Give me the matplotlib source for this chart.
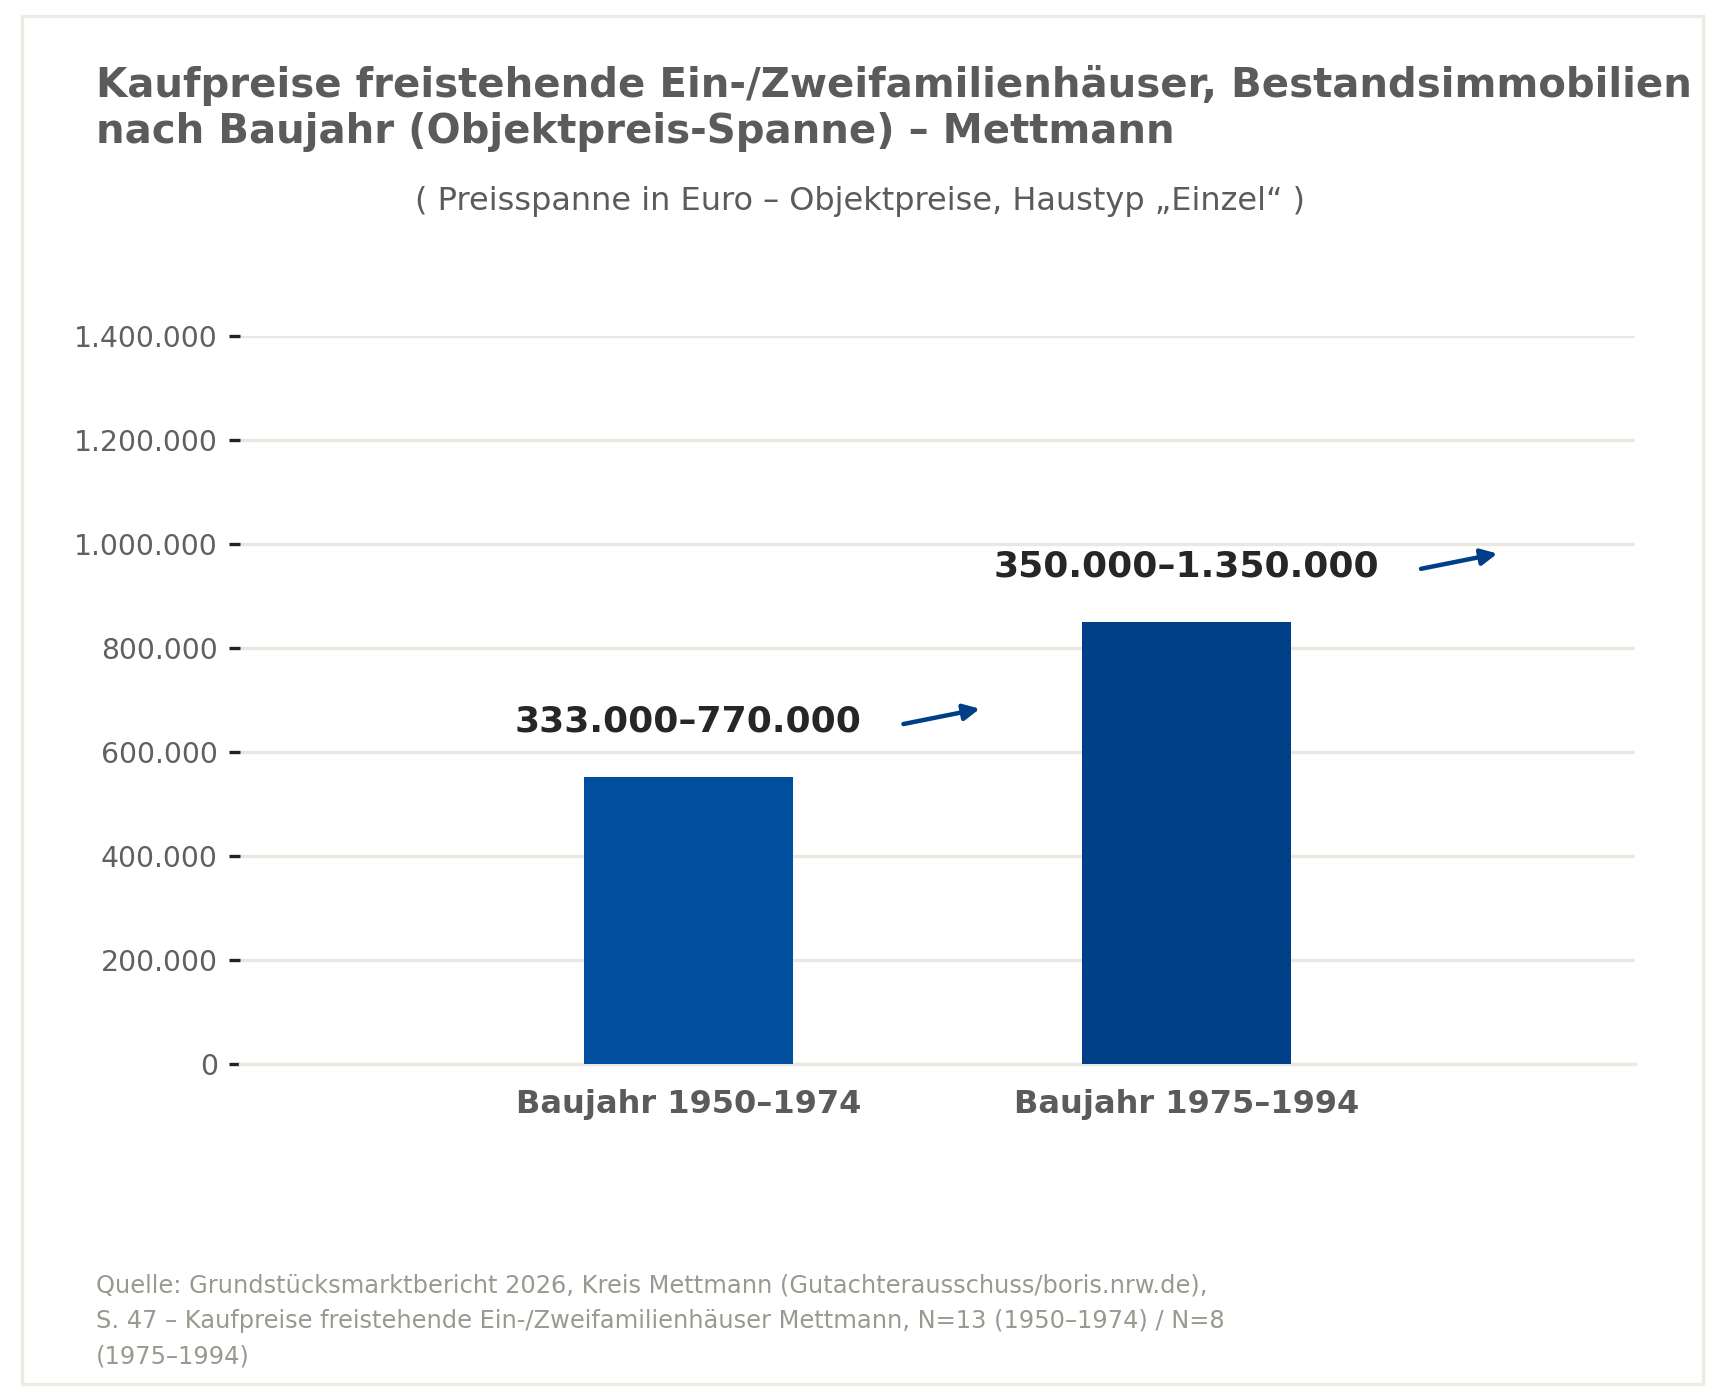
import matplotlib.pyplot as plt
import matplotlib.patches as mpatches
from matplotlib.text import OffsetFrom
from matplotlib.ticker import FuncFormatter

# Daten (Mittelwert der Preisspanne je Baujahresklasse)
categories = ["Baujahr 1950–1974", "Baujahr 1975–1994"]
range_low = [333000, 350000]
range_high = [770000, 1350000]
bar_values = [551500, 850000]
range_labels = ["333.000–770.000", "350.000–1.350.000"]
yticks = [0, 200000, 400000, 600000, 800000, 1000000, 1200000, 1400000]

bar_colors = ["#004f9e", "#004088"]
arrow_color = "#003f87"
grid_color = "#ebe8e1"
title_color = "#5b5b5b"

fig = plt.figure(figsize=(8.6, 7), dpi=200)
ax = fig.add_axes([0.1395, 0.2402, 0.811, 0.5200])

x = list(range(len(categories)))
ax.bar(x, bar_values, width=0.42, color=bar_colors, zorder=3)

ax.set_xlim(-0.9, 1.9)
ax.set_ylim(0, 1400000)
ax.set_yticks(yticks)
ax.yaxis.set_major_formatter(FuncFormatter(lambda v, p: f"{int(v):,}".replace(",", ".")))
ax.grid(axis="y", color=grid_color, linewidth=1.2, zorder=0)
ax.set_axisbelow(True)
for s in ["top", "right", "left"]:
    ax.spines[s].set_visible(False)
ax.spines["bottom"].set_color(grid_color)
ax.spines["bottom"].set_linewidth(1.2)

ax.tick_params(axis="y", length=4, width=1.2, color="#222222", labelsize=10.2,
               labelcolor="#606060", pad=4)
ax.tick_params(axis="x", length=0, labelsize=11.5, labelcolor=title_color, pad=9)
ax.set_xticks(x)
ax.set_xticklabels(categories, fontweight="bold")

for xi, val, lab in zip(x, bar_values, range_labels):
    t = ax.text(xi, val + 106000, lab, ha="center", va="center",
                fontsize=13, fontweight="bold", color="#262626")
    ref = OffsetFrom(t, (1, 0.5), unit="points")
    ax.annotate("", xy=(42.5, 4.7), xycoords=ref, xytext=(15, -0.8), textcoords=ref,
                arrowprops=dict(arrowstyle="-|>", color=arrow_color, lw=1.6,
                                mutation_scale=12, shrinkA=0, shrinkB=0))

fig.text(0.056, 0.9225, "Kaufpreise freistehende Ein-/Zweifamilienhäuser, Bestandsimmobilien\n"
         "nach Baujahr (Objektpreis-Spanne) – Mettmann",
         ha="left", va="center", fontsize=14.5, fontweight="bold", color=title_color,
         linespacing=1.21)
fig.text(0.5, 0.856, "( Preisspanne in Euro – Objektpreise, Haustyp „Einzel“ )",
         ha="center", va="center", fontsize=11.5, color=title_color)
fig.text(0.056, 0.0565,
         "Quelle: Grundstücksmarktbericht 2026, Kreis Mettmann (Gutachterausschuss/boris.nrw.de),\n"
         "S. 47 – Kaufpreise freistehende Ein-/Zweifamilienhäuser Mettmann, N=13 (1950–1974) / N=8\n"
         "(1975–1994)",
         ha="left", va="center", fontsize=8.7, color="#999990", linespacing=1.6)

fig.patches.append(mpatches.Rectangle((0.0128, 0.0114), 0.9773, 0.9772, transform=fig.transFigure,
                                      fill=False, edgecolor="#ecebe4", linewidth=1.2))

fig.savefig("out.png", dpi=200, facecolor="white")
